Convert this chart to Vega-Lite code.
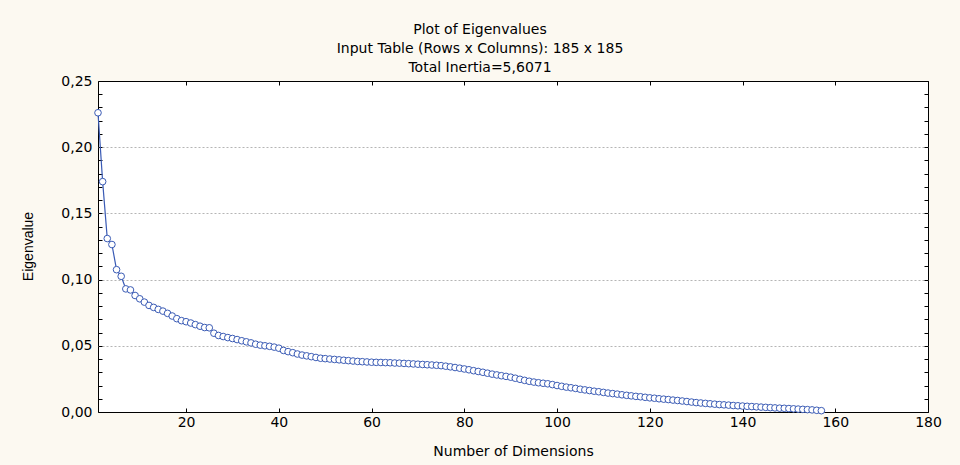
{
  "$schema": "https://vega.github.io/schema/vega-lite/v6.json",
  "width": 830,
  "height": 331,
  "autosize": {"type": "none"},
  "padding": {"left": 98, "top": 81, "right": 32, "bottom": 53},
  "background": "#fcf9f1",
  "config": {
    "view": {"fill": "white", "stroke": "black", "strokeWidth": 1},
    "font": "DejaVu Sans"
  },
  "title": {
    "text": ["Plot of Eigenvalues", "Input Table (Rows x Columns): 185 x 185", "Total Inertia=5,6071"],
    "anchor": "middle",
    "frame": "group",
    "dx": -33,
    "offset": -1,
    "font": "DejaVu Sans",
    "fontSize": 14,
    "fontWeight": "normal",
    "lineHeight": 19,
    "color": "black"
  },
  "data": {
    "values": [
      {"d": 1, "v": 0.226}, {"d": 2, "v": 0.174}, {"d": 3, "v": 0.131}, {"d": 4, "v": 0.1265}, {"d": 5, "v": 0.1075},
      {"d": 6, "v": 0.1025}, {"d": 7, "v": 0.093}, {"d": 8, "v": 0.0922}, {"d": 9, "v": 0.088}, {"d": 10, "v": 0.0855},
      {"d": 11, "v": 0.083}, {"d": 12, "v": 0.0805}, {"d": 13, "v": 0.079}, {"d": 14, "v": 0.0775}, {"d": 15, "v": 0.0762},
      {"d": 16, "v": 0.0745}, {"d": 17, "v": 0.0725}, {"d": 18, "v": 0.0705}, {"d": 19, "v": 0.069}, {"d": 20, "v": 0.0682},
      {"d": 21, "v": 0.0672}, {"d": 22, "v": 0.066}, {"d": 23, "v": 0.0648}, {"d": 24, "v": 0.0638}, {"d": 25, "v": 0.0636},
      {"d": 26, "v": 0.0595}, {"d": 27, "v": 0.0578}, {"d": 28, "v": 0.057}, {"d": 29, "v": 0.0562}, {"d": 30, "v": 0.0555},
      {"d": 31, "v": 0.0547}, {"d": 32, "v": 0.0538}, {"d": 33, "v": 0.053}, {"d": 34, "v": 0.0522}, {"d": 35, "v": 0.0512},
      {"d": 36, "v": 0.0505}, {"d": 37, "v": 0.05}, {"d": 38, "v": 0.0496}, {"d": 39, "v": 0.049}, {"d": 40, "v": 0.0482},
      {"d": 41, "v": 0.0465}, {"d": 42, "v": 0.0456}, {"d": 43, "v": 0.0448}, {"d": 44, "v": 0.0438}, {"d": 45, "v": 0.043},
      {"d": 46, "v": 0.0424}, {"d": 47, "v": 0.0418}, {"d": 48, "v": 0.0412}, {"d": 49, "v": 0.0406}, {"d": 50, "v": 0.0403},
      {"d": 51, "v": 0.04}, {"d": 52, "v": 0.0397}, {"d": 53, "v": 0.0394}, {"d": 54, "v": 0.0391}, {"d": 55, "v": 0.0388},
      {"d": 56, "v": 0.0385}, {"d": 57, "v": 0.0382}, {"d": 58, "v": 0.038}, {"d": 59, "v": 0.0378}, {"d": 60, "v": 0.0376},
      {"d": 61, "v": 0.0375}, {"d": 62, "v": 0.0374}, {"d": 63, "v": 0.0373}, {"d": 64, "v": 0.0372}, {"d": 65, "v": 0.037},
      {"d": 66, "v": 0.0369}, {"d": 67, "v": 0.0367}, {"d": 68, "v": 0.0365}, {"d": 69, "v": 0.0363}, {"d": 70, "v": 0.0361},
      {"d": 71, "v": 0.0359}, {"d": 72, "v": 0.0357}, {"d": 73, "v": 0.0355}, {"d": 74, "v": 0.0353}, {"d": 75, "v": 0.035},
      {"d": 76, "v": 0.0346}, {"d": 77, "v": 0.0341}, {"d": 78, "v": 0.0336}, {"d": 79, "v": 0.0331}, {"d": 80, "v": 0.0325},
      {"d": 81, "v": 0.0319}, {"d": 82, "v": 0.0312}, {"d": 83, "v": 0.0306}, {"d": 84, "v": 0.03}, {"d": 85, "v": 0.0293},
      {"d": 86, "v": 0.0286}, {"d": 87, "v": 0.028}, {"d": 88, "v": 0.0274}, {"d": 89, "v": 0.0269}, {"d": 90, "v": 0.0263},
      {"d": 91, "v": 0.0255}, {"d": 92, "v": 0.0247}, {"d": 93, "v": 0.0239}, {"d": 94, "v": 0.0232}, {"d": 95, "v": 0.0226},
      {"d": 96, "v": 0.0221}, {"d": 97, "v": 0.0217}, {"d": 98, "v": 0.0213}, {"d": 99, "v": 0.0207}, {"d": 100, "v": 0.02},
      {"d": 101, "v": 0.0194}, {"d": 102, "v": 0.0188}, {"d": 103, "v": 0.0183}, {"d": 104, "v": 0.0178}, {"d": 105, "v": 0.0172},
      {"d": 106, "v": 0.0167}, {"d": 107, "v": 0.0162}, {"d": 108, "v": 0.0157}, {"d": 109, "v": 0.0153}, {"d": 110, "v": 0.0148},
      {"d": 111, "v": 0.0143}, {"d": 112, "v": 0.0139}, {"d": 113, "v": 0.0135}, {"d": 114, "v": 0.013}, {"d": 115, "v": 0.0126},
      {"d": 116, "v": 0.0122}, {"d": 117, "v": 0.0118}, {"d": 118, "v": 0.0115}, {"d": 119, "v": 0.0111}, {"d": 120, "v": 0.0107},
      {"d": 121, "v": 0.0104}, {"d": 122, "v": 0.01}, {"d": 123, "v": 0.0097}, {"d": 124, "v": 0.0094}, {"d": 125, "v": 0.009},
      {"d": 126, "v": 0.0087}, {"d": 127, "v": 0.0083}, {"d": 128, "v": 0.0079}, {"d": 129, "v": 0.0075}, {"d": 130, "v": 0.0071},
      {"d": 131, "v": 0.0068}, {"d": 132, "v": 0.0065}, {"d": 133, "v": 0.0062}, {"d": 134, "v": 0.0059}, {"d": 135, "v": 0.0056},
      {"d": 136, "v": 0.0054}, {"d": 137, "v": 0.0052}, {"d": 138, "v": 0.0049}, {"d": 139, "v": 0.0047}, {"d": 140, "v": 0.0045},
      {"d": 141, "v": 0.0043}, {"d": 142, "v": 0.0041}, {"d": 143, "v": 0.0039}, {"d": 144, "v": 0.0037}, {"d": 145, "v": 0.0035},
      {"d": 146, "v": 0.0033}, {"d": 147, "v": 0.0031}, {"d": 148, "v": 0.0029}, {"d": 149, "v": 0.0028}, {"d": 150, "v": 0.0026},
      {"d": 151, "v": 0.0024}, {"d": 152, "v": 0.0022}, {"d": 153, "v": 0.002}, {"d": 154, "v": 0.0018}, {"d": 155, "v": 0.0016},
      {"d": 156, "v": 0.0013}, {"d": 157, "v": 0.001}
    ]
  },
  "layer": [
    {
      "mark": {"type": "line", "color": "#3a5bb5", "strokeWidth": 1.2},
      "encoding": {
        "x": {
          "field": "d", "type": "quantitative",
          "scale": {"domain": [1, 180], "nice": false, "zero": false},
          "axis": {
            "orient": "bottom",
            "values": [20, 40, 60, 80, 100, 120, 140, 160, 180],
            "format": "d",
            "domain": false,
            "grid": false,
            "tickSize": -4,
            "tickColor": "black",
            "labelFlush": false,
            "labelPadding": 7,
            "labelFont": "DejaVu Sans",
            "labelFontSize": 14,
            "labelColor": "black",
            "title": "Number of Dimensions",
            "titleFont": "DejaVu Sans",
            "titleFontSize": 14,
            "titleFontWeight": "normal",
            "titleColor": "black",
            "titleY": 39,
            "titleBaseline": "middle"
          }
        },
        "y": {
          "field": "v", "type": "quantitative",
          "scale": {"domain": [0, 0.25], "nice": false, "zero": true},
          "axis": {
            "orient": "left",
            "values": [0, 0.01, 0.02, 0.03, 0.04, 0.05, 0.06, 0.07, 0.08, 0.09, 0.1, 0.11, 0.12, 0.13, 0.14, 0.15, 0.16, 0.17, 0.18, 0.19, 0.2, 0.21, 0.22, 0.23, 0.24, 0.25],
            "labelExpr": "round(datum.value*100) % 5 === 0 ? replace(format(datum.value, '.2f'), '.', ',') : ''",
            "domain": false,
            "tickColor": "black",
            "tickSize": -4,
            "labelFlush": false,
            "grid": true,
            "gridColor": "#b5b5b5",
            "gridDash": [2, 2],
            "gridOpacity": {"condition": {"test": "round(datum.value*100) % 5 === 0 && datum.value > 0.001 && datum.value < 0.249", "value": 1}, "value": 0},
            "labelPadding": 10,
            "labelFont": "DejaVu Sans",
            "labelFontSize": 14,
            "labelColor": "black",
            "title": "Eigenvalue",
            "titleFont": "Liberation Sans Narrow, Liberation Sans",
            "titleFontSize": 14,
            "titleFontWeight": "normal",
            "titleColor": "black",
            "titleAngle": -90,
            "titleX": -70,
            "titleY": 165,
            "titleAlign": "center",
            "titleBaseline": "middle"
          }
        }
      }
    },
    {
      "mark": {"type": "point", "shape": "circle", "filled": true, "fill": "white", "stroke": "#3a5bb5", "strokeWidth": 1, "size": 44, "opacity": 1},
      "encoding": {
        "x": {"field": "d", "type": "quantitative", "axis": null},
        "y": {"field": "v", "type": "quantitative", "axis": null}
      }
    },
    {
      "mark": {"type": "point", "opacity": 0},
      "encoding": {
        "x": {
          "field": "d", "type": "quantitative",
          "axis": {
            "orient": "top",
            "values": [20, 40, 60, 80, 100, 120, 140, 160, 180],
            "labels": false, "domain": false, "grid": false,
            "tickSize": -4, "tickColor": "black", "title": null
          }
        },
        "y": {
          "field": "v", "type": "quantitative",
          "axis": {
            "orient": "right",
            "values": [0, 0.01, 0.02, 0.03, 0.04, 0.05, 0.06, 0.07, 0.08, 0.09, 0.1, 0.11, 0.12, 0.13, 0.14, 0.15, 0.16, 0.17, 0.18, 0.19, 0.2, 0.21, 0.22, 0.23, 0.24, 0.25],
            "labels": false, "domain": false, "grid": false,
            "tickColor": "black",
            "tickSize": -4,
            "title": null
          }
        }
      }
    }
  ],
  "resolve": {"axis": {"x": "independent", "y": "independent"}}
}
